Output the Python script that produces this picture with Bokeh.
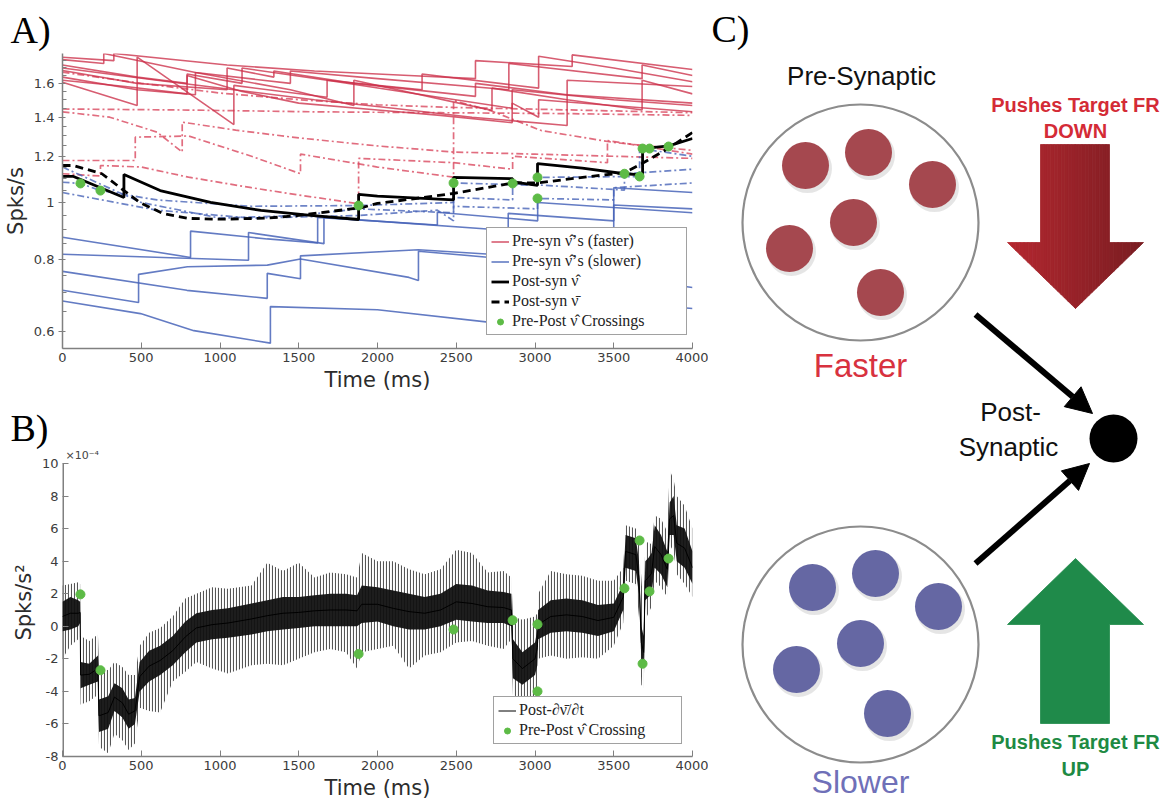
from bokeh.plotting import figure
from bokeh.models import Range1d, FixedTicker, Label, Legend, LegendItem, Arrow, NormalHead, Title
from bokeh.layouts import row, column
from bokeh.embed import file_html
from bokeh.resources import INLINE
from bokeh.core.properties import value

# ---------------- Panel A data (time in ms, rate in Spks/s) ----------------
red_solid_t = [
    [0, 326, 326, 1045, 1600, 2200, 2622, 2622, 3236, 3236, 4000],
    [0, 262, 262, 844, 1447, 1447, 2000, 2834, 2834, 3680, 3680, 4000],
    [0, 474, 791, 791, 1140, 1140, 1680, 2283, 2283, 3023, 3023, 3500, 4000],
    [0, 474, 1045, 1045, 1342, 1342, 1850, 2622, 2622, 3204, 3204, 4000],
    [0, 474, 474, 1088, 1088, 1680, 1680, 2283, 2855, 2855, 3500, 4000],
    [0, 474, 844, 844, 1447, 1850, 1850, 2727, 2727, 3204, 3680, 3680, 4000],
    [0, 400, 791, 791, 1140, 1500, 2000, 2400, 2855, 2855, 3023, 3023, 4000],
    [0, 600, 1088, 1600, 2100, 2600, 3204, 3204, 4000],
]
red_solid_v = [
    [1.774, 1.75, 1.80, 1.72, 1.68, 1.65, 1.63, 1.75, 1.71, 1.79, 1.69],
    [1.757, 1.73, 1.80, 1.67, 1.60, 1.68, 1.63, 1.56, 1.73, 1.63, 1.72, 1.65],
    [1.72, 1.64, 1.60, 1.66, 1.60, 1.70, 1.62, 1.56, 1.66, 1.57, 1.78, 1.70, 1.61],
    [1.683, 1.60, 1.56, 1.70, 1.64, 1.68, 1.60, 1.52, 1.60, 1.53, 1.62, 1.58],
    [1.607, 1.466, 1.775, 1.36, 1.587, 1.515, 1.62, 1.53, 1.45, 1.56, 1.50, 1.466],
    [1.64, 1.56, 1.53, 1.67, 1.56, 1.466, 1.62, 1.438, 1.57, 1.50, 1.44, 1.62, 1.535],
    [1.62, 1.58, 1.535, 1.65, 1.55, 1.48, 1.44, 1.41, 1.37, 1.48, 1.40, 1.50, 1.43],
    [1.70, 1.62, 1.56, 1.50, 1.45, 1.40, 1.355, 1.53, 1.48],
]
red_dash_t = [
    [0, 500, 1000, 1500, 2000, 2483, 3000, 3500, 4000],
    [0, 800, 1600, 2400, 3200, 4000],
    [0, 300, 600, 760, 760, 1100, 1500, 2000, 2483, 3000, 3500, 4000],
    [0, 462, 462, 800, 1200, 1511, 1511, 2000, 2483, 2483, 2717, 3040, 3500, 4000],
    [0, 241, 241, 500, 800, 1200, 1500, 1880, 1880, 2483, 2858, 2858, 3460, 3460, 4000],
]
red_dash_v = [
    [1.672, 1.60, 1.54, 1.50, 1.47, 1.455, 1.445, 1.435, 1.425],
    [1.446, 1.44, 1.43, 1.425, 1.42, 1.41],
    [1.43, 1.40, 1.32, 1.22, 1.373, 1.33, 1.29, 1.25, 1.22, 1.21, 1.20, 1.19],
    [1.18, 1.18, 1.294, 1.30, 1.20, 1.12, 1.21, 1.15, 1.105, 1.495, 1.437, 1.328, 1.267, 1.228],
    [1.12, 1.11, 1.157, 1.15, 1.105, 1.06, 1.03, 0.995, 1.19, 1.17, 1.14, 1.20, 1.17, 1.277, 1.21],
]
blue_solid_t = [
    [0, 813, 813, 1300, 1620, 1620, 2380, 2380, 3017, 3017, 4000],
    [0, 1181, 1181, 1660, 1660, 2830, 2830, 3500, 3500, 4000],
    [0, 790, 1300, 1300, 1511, 1511, 2260, 2717, 3300, 3500, 3500, 4000],
    [0, 483, 483, 793, 1300, 1511, 2200, 2260, 2260, 2717, 3500, 4000],
    [0, 495, 834, 1320, 1320, 2000, 2717, 3050, 3050, 4000],
]
blue_solid_v = [
    [0.872, 0.805, 0.893, 0.866, 0.852, 0.943, 0.915, 0.962, 0.93, 1.0, 0.96],
    [0.815, 0.796, 0.888, 0.850, 0.943, 0.895, 0.958, 0.93, 0.99, 0.975],
    [0.762, 0.707, 0.685, 0.756, 0.74, 0.81, 0.83, 0.815, 0.78, 0.76, 1.06, 1.04],
    [0.707, 0.674, 0.753, 0.776, 0.781, 0.80, 0.744, 0.735, 0.825, 0.805, 0.745, 0.715],
    [0.678, 0.645, 0.603, 0.574, 0.663, 0.655, 0.623, 0.615, 0.69, 0.658],
]
blue_dash_t = [
    [0, 114, 241, 600, 1200, 1880, 2483, 2483, 3016, 3016, 3664, 3664, 4000],
    [0, 500, 1000, 1500, 1880, 2483, 2483, 2858, 2858, 3568, 3568, 4000],
    [0, 600, 1200, 1880, 2380, 2483, 2483, 3016, 3016, 3500, 3500, 4000],
]
blue_dash_v = [
    [1.083, 1.078, 1.048, 1.01, 0.985, 0.988, 1.0, 1.08, 1.07, 1.104, 1.108, 1.237, 1.20],
    [1.15, 1.0, 0.94, 0.95, 0.975, 0.96, 1.02, 1.01, 1.078, 1.05, 1.12, 1.14],
    [1.04, 0.97, 0.94, 0.95, 0.97, 0.93, 0.985, 0.975, 1.016, 1.01, 1.06, 1.08],
]
post_hat_t = [0, 70, 390, 390, 620, 940, 1260, 1575, 1880, 1880, 2000, 2483, 2483, 2858, 2858,
              3016, 3016, 3300, 3568, 3683, 3683, 3850, 4000]
post_hat_v = [1.108, 1.108, 1.02, 1.117, 1.048, 1.0, 0.969, 0.95, 0.935, 1.032, 1.025, 1.01, 1.104,
              1.098, 1.085, 1.07, 1.166, 1.145, 1.12, 1.115, 1.237, 1.25, 1.287]
post_bar_t = [0, 70, 250, 490, 640, 800, 1000, 1300, 1500, 1700, 1900, 2000, 2483, 2858, 3016,
              3250, 3570, 3680, 3850, 4000]
post_bar_v = [1.157, 1.157, 1.12, 1.0, 0.957, 0.939, 0.936, 0.94, 0.95, 0.965, 0.98, 0.996, 1.036,
              1.08, 1.08, 1.10, 1.125, 1.166, 1.24, 1.318]
cross_t = [114, 241, 1880, 2483, 2858, 3016, 3016, 3568, 3664, 3683, 3727, 3848]
cross_vA = [1.078, 1.048, 0.988, 1.08, 1.078, 1.104, 1.016, 1.12, 1.108, 1.237, 1.237, 1.247]
cross_vB = [1.96, -2.7, -1.7, -0.2, 0.37, 0.12, -4.0, 2.33, 5.27, -2.3, 2.14, 4.16]

a_x_ticks = [0, 500, 1000, 1500, 2000, 2500, 3000, 3500, 4000]
a_y_ticks = [0.6, 0.8, 1, 1.2, 1.4, 1.6]
a_y_labels = ["0.6", "0.8", "1", "1.2", "1.4", "1.6"]
a_y_minor = [0.65, 0.7, 0.75, 0.85, 0.9, 0.95, 1.05, 1.1, 1.15, 1.25, 1.3, 1.35,
             1.45, 1.5, 1.55, 1.65, 1.7, 1.75]

# ---------------- Panel B data (units of 1e-4 Spks/s^2) ----------------
b_t = [0, 50, 100, 112, 115, 170, 225, 232, 290, 330, 380, 420, 460, 490, 550, 620, 700, 780,
       850, 950, 1050, 1200, 1300, 1400, 1500, 1600, 1700, 1800, 1870, 1900, 2000, 2100, 2200,
       2300, 2400, 2500, 2600, 2700, 2800, 2850, 2860, 2920, 3000, 3015, 3020, 3100, 3200, 3300,
       3400, 3500, 3560, 3575, 3640, 3660, 3675, 3690, 3700, 3720, 3740, 3760, 3800, 3840, 3855,
       3880, 3900, 3950, 4000]
b_core_hi = [1.5, 1.8, 1.6, 1.5, -2.2, -2.3, -1.8, -4.5, -4.3, -3.5, -3.8, -4.5, -4.4, -2.2, -1.5,
             -1.2, -0.6, 0.3, 0.8, 1.0, 1.1, 1.4, 1.6, 1.8, 1.8, 1.9, 2.0, 2.0, 1.9, 2.5, 2.4, 2.2,
             2.0, 1.8, 2.0, 2.6, 2.5, 2.2, 2.1, 2.0, -0.8, -1.6, -1.0, -0.2, 1.0, 1.6, 1.7, 1.6,
             1.3, 1.4, 2.6, 5.6, 5.4, 4.0, 0.0, -0.6, 4.0, 4.2, 4.5, 6.2, 5.6, 4.6, 7.6, 8.0, 6.2,
             6.0, 4.6]
b_core_lo = [-0.3, -0.2, 0.0, 0.2, -3.8, -3.6, -3.4, -6.5, -6.3, -5.2, -5.6, -6.3, -6.0, -4.0,
             -3.4, -3.0, -2.4, -1.6, -1.0, -0.8, -0.7, -0.5, -0.3, -0.2, -0.1, 0.0, 0.0, 0.0, 0.0,
             0.2, 0.3, 0.0, -0.2, -0.2, 0.0, 0.4, 0.3, 0.2, 0.2, 0.0, -3.2, -3.6, -3.0, -2.4, -0.8,
             -0.4, -0.3, -0.4, -0.6, -0.3, 1.0, 3.6, 3.4, 2.0, -2.0, -2.6, 1.6, 1.8, 2.0, 3.6, 3.2,
             2.4, 5.6, 5.6, 4.0, 3.6, 2.6]
b_spike_hi = [2.5, 2.6, 2.7, 2.6, -0.6, -0.9, -0.5, -2.5, -2.7, -2.2, -2.5, -3.0, -3.0, -1.2, -0.4,
              -0.1, 0.6, 1.7, 2.0, 2.4, 2.3, 2.5, 3.9, 3.4, 3.9, 3.0, 3.3, 3.2, 3.0, 4.5, 4.0, 4.0,
              3.5, 3.2, 3.5, 4.7, 4.5, 3.3, 3.4, 3.0, 0.6, 0.4, 0.6, 0.8, 2.0, 3.4, 3.2, 3.1, 2.8,
              2.8, 3.6, 6.2, 6.0, 5.0, 3.0, 1.0, 5.0, 5.2, 5.0, 6.8, 6.6, 5.8, 9.6, 9.0, 8.0, 7.4,
              6.0]
b_spike_lo = [-2.0, -1.2, -0.8, -0.6, -4.8, -4.6, -4.2, -7.4, -7.8, -6.6, -7.0, -7.6, -7.2, -5.0,
              -5.2, -5.3, -3.4, -2.8, -2.2, -2.6, -2.9, -2.4, -2.3, -2.4, -2.0, -1.6, -1.4, -1.6,
              -2.6, -1.6, -1.4, -1.2, -2.6, -1.8, -1.6, -1.0, -0.9, -1.2, -1.4, -0.8, -4.2, -4.5,
              -4.5, -4.6, -2.0, -1.8, -2.0, -1.9, -2.0, -1.2, 0.2, 2.8, 2.6, 0.6, -3.6, -3.8, 0.4,
              0.8, 1.2, 2.8, 2.4, 1.8, 5.0, 4.6, 3.2, 2.6, 1.8]
b_y_ticks = [-8, -6, -4, -2, 0, 2, 4, 6, 8, 10]
b_y_labels = ["-8", "-6", "-4", "-2", "0", "2", "4", "6", "8", "10"]
b_y_min, b_y_max = -8, 10
b_exponent = "\u00d710\u207b\u2074"

# ---------------- colours ----------------
RED = "#cc3049"
RED_DD = "#d9485f"
BLUE = "#4864b8"
GREEN = "#5dbb46"
AXC = "#808080"


def style(p, ymajor_in, ymajor_out, yminor_in):
    p.outline_line_color = None
    p.xgrid.visible = False
    p.ygrid.visible = False
    for ax in (p.xaxis[0], p.yaxis[0]):
        ax.axis_line_color = AXC
        ax.axis_line_width = 1.5
        ax.major_tick_line_color = AXC
        ax.minor_tick_line_color = AXC
        ax.major_label_text_font = "DejaVu Sans"
        ax.major_label_text_font_size = "13px"
        ax.major_label_text_color = "#3c3c3c"
        ax.axis_label_text_font = "DejaVu Sans"
        ax.axis_label_text_font_size = "21px"
        ax.axis_label_text_font_style = "normal"
        ax.axis_label_text_color = "#2c2c2c"
        ax.major_label_standoff = 4
        ax.axis_label_standoff = 3
    p.xaxis.major_tick_in = 6
    p.xaxis.major_tick_out = 0
    p.xaxis.minor_tick_line_color = None
    p.yaxis.major_tick_in = ymajor_in
    p.yaxis.major_tick_out = ymajor_out
    p.yaxis.minor_tick_in = yminor_in
    p.yaxis.minor_tick_out = 0


def style_legend(lg, lw):
    lg.label_text_font = "Liberation Serif"
    lg.label_text_font_size = "16px"
    lg.label_text_color = "#222222"
    lg.glyph_width = 18
    lg.glyph_height = 15
    lg.label_height = 15
    lg.label_standoff = 3
    lg.spacing = 2
    lg.padding = 4
    lg.margin = 0
    lg.label_width = lw
    lg.border_line_color = "#444444"
    lg.border_line_width = 1
    lg.background_fill_alpha = 1.0


def panel_title(p, txt, standoff, baseline="bottom"):
    p.add_layout(Title(text=txt, align="left", offset=-52, standoff=standoff,
                       text_font="Liberation Serif", text_font_size="38px",
                       text_font_style="normal", text_color="black",
                       text_baseline=baseline), "above")


# ---------------- Panel A ----------------
pA = figure(width=708, height=398, y_axis_type="log", x_range=Range1d(0, 4000),
            y_range=Range1d(0.562, 1.80), output_backend="svg", toolbar_location=None,
            min_border_left=62, min_border_right=16, min_border_top=53, min_border_bottom=50)
style(pA, 3, 4, 4)
pA.xaxis.ticker = FixedTicker(ticks=a_x_ticks)
pA.yaxis.ticker = FixedTicker(ticks=a_y_ticks, minor_ticks=a_y_minor)
pA.yaxis.major_label_overrides = dict(zip(a_y_ticks, a_y_labels))
pA.xaxis.axis_label = "Time (ms)"
pA.yaxis.axis_label = "Spks/s"
panel_title(pA, "A)", 6)

r_red = None
for t, v in zip(red_dash_t, red_dash_v):
    pA.line(t, v, line_color=RED_DD, line_alpha=0.8, line_width=1.7, line_dash="7 3 2 3")
for t, v in zip(red_solid_t, red_solid_v):
    rr = pA.line(t, v, line_color=RED, line_alpha=0.78, line_width=1.6)
    if r_red is None:
        r_red = rr
r_blue = None
for t, v in zip(blue_dash_t, blue_dash_v):
    pA.line(t, v, line_color=BLUE, line_alpha=0.8, line_width=1.7, line_dash="7 3 2 3")
for t, v in zip(blue_solid_t, blue_solid_v):
    rb = pA.line(t, v, line_color=BLUE, line_alpha=0.85, line_width=1.6)
    if r_blue is None:
        r_blue = rb
r_hat = pA.line(post_hat_t, post_hat_v, line_color="black", line_width=2.8)
r_bar = pA.line(post_bar_t, post_bar_v, line_color="black", line_width=2.8, line_dash="8 5")
r_crossA = pA.scatter(cross_t, cross_vA, size=9, fill_color=GREEN, line_color=GREEN)

legA = Legend(items=[
    LegendItem(label="Pre-syn \u03bd\u0302\u2019s (faster)", renderers=[r_red]),
    LegendItem(label="Pre-syn \u03bd\u0302\u2019s (slower)", renderers=[r_blue]),
    LegendItem(label="Post-syn \u03bd\u0302", renderers=[r_hat]),
    LegendItem(label="Post-syn \u03bd\u0304", renderers=[r_bar]),
    LegendItem(label="Pre-Post \u03bd\u0302 Crossings", renderers=[r_crossA]),
], location=(424, 13))
style_legend(legA, 170)
pA.add_layout(legA)

# ---------------- Panel B ----------------
# the frame reaches a little above 10 so that the x10^-4 note can sit inside it
pB = figure(width=708, height=404, x_range=Range1d(0, 4000), y_range=Range1d(b_y_min, 10.92),
            output_backend="svg", toolbar_location=None,
            min_border_left=62, min_border_right=16, min_border_top=50, min_border_bottom=45)
style(pB, 6, 0, 0)
pB.yaxis.axis_line_color = None
pB.xaxis.ticker = FixedTicker(ticks=a_x_ticks)
pB.yaxis.ticker = FixedTicker(ticks=b_y_ticks, minor_ticks=[])
pB.yaxis.major_label_overrides = dict(zip(b_y_ticks, b_y_labels))
pB.xaxis.axis_label = "Time (ms)"
pB.yaxis.axis_label = "Spks/s\u00b2"
panel_title(pB, "B)", 0, baseline="alphabetic")
pB.segment(x0=[0], y0=[b_y_min], x1=[0], y1=[b_y_max], line_color=AXC, line_width=3)
pB.text(x=[0], y=[b_y_max], text=[b_exponent], x_offset=3, y_offset=-1,
        text_font=value("DejaVu Sans"), text_font_size="11px", text_color="#444444",
        text_baseline="bottom", text_align="left")

pB.varea(x=b_t, y1=b_spike_lo, y2=b_spike_hi, fill_color=None, fill_alpha=0,
         hatch_pattern="vertical_line", hatch_color="#2a2a2a", hatch_alpha=0.8,
         hatch_scale=3, hatch_weight=1.1)
pB.varea(x=b_t, y1=b_core_lo, y2=b_core_hi, fill_color="#111111", fill_alpha=0.95)
b_mid = [(a + b) / 2 for a, b in zip(b_core_lo, b_core_hi)]
r_deriv = pB.line(b_t, b_mid, line_color="black", line_width=1)
r_crossB = pB.scatter(cross_t, cross_vB, size=9, fill_color=GREEN, line_color=GREEN)

legB = Legend(items=[
    LegendItem(label="Post-\u2202\u03bd\u0304/\u2202t", renderers=[r_deriv]),
    LegendItem(label="Pre-Post \u03bd\u0302 Crossing", renderers=[r_crossB]),
], location=(431, 12))
style_legend(legB, 158)
pB.add_layout(legB)

# ---------------- Panel C (schematic, canvas coordinates) ----------------
pC = figure(width=460, height=802, x_range=Range1d(708, 1168), y_range=Range1d(802, 0),
            x_axis_location=None, y_axis_location=None, min_border=0,
            output_backend="svg", toolbar_location=None)
pC.outline_line_color = None
pC.grid.visible = False

pool_cx = [860, 860]
pool_cy = [222, 644]
pC.circle(pool_cx, pool_cy, radius=118, fill_color=None, line_color="#8c8c8c", line_width=2.2)

fast_x = [805, 868, 932, 853, 789, 880]
fast_y = [165, 152, 184, 222, 248, 292]
slow_x = [812, 875, 938, 860, 796, 887]
slow_y = [587, 573, 606, 643, 669, 713]
pC.circle([x + 2 for x in fast_x], [y + 3 for y in fast_y], radius=24.5,
          fill_color="black", fill_alpha=0.10, line_color=None)
pC.circle([x + 2 for x in slow_x], [y + 3 for y in slow_y], radius=24.5,
          fill_color="black", fill_alpha=0.10, line_color=None)
pC.circle(fast_x, fast_y, radius=23.5, fill_color="#a5484f", line_color=None)
pC.circle(slow_x, slow_y, radius=23.5, fill_color="#6567a3", line_color=None)

pC.circle([1113], [438], radius=24, fill_color="black", line_color=None)
pC.add_layout(Arrow(end=NormalHead(size=26, fill_color="black", line_color="black"),
                    x_start=975, y_start=314, x_end=1092, y_end=413,
                    line_width=6, line_color="black"))
pC.add_layout(Arrow(end=NormalHead(size=26, fill_color="black", line_color="black"),
                    x_start=975, y_start=563, x_end=1089, y_end=463,
                    line_width=6, line_color="black"))

hl, hr, sl, sr, top, base, tipy, tipx = 1007, 1143, 1040, 1109, 144, 242, 308, 1075


def y_lower(x):
    if x <= tipx:
        f = (x - hl) / (tipx - hl)
    else:
        f = (hr - x) / (hr - tipx)
    return base + (tipy - base) * f


edges = [hl + (sl - hl) * i / 8 for i in range(9)]
edges += [sl + (sr - sl) * i / 20 for i in range(1, 21)]
edges += [sr + (hr - sr) * i / 8 for i in range(1, 9)]
edges = sorted(set(edges + [tipx]))
c0 = (181, 40, 48)
c1 = (122, 29, 34)
xs_list, ys_list, cols = [], [], []
for a, b in zip(edges[:-1], edges[1:]):
    inside = a >= sl - 1e-6 and b <= sr + 1e-6
    yt = top if inside else base
    xs_list.append([a, b, b, a])
    ys_list.append([yt, yt, y_lower(b), y_lower(a)])
    f = ((a + b) / 2 - hl) / (hr - hl)
    c = tuple(int(c0[k] + (c1[k] - c0[k]) * f) for k in range(3))
    cols.append("#%02x%02x%02x" % c)
pC.patches(xs_list, ys_list, fill_color=cols, line_color=cols, line_width=0.8)

g_top, g_base, g_bot = 558, 624, 723
pC.patch([sl, sl, hl, tipx, hr, sr, sr], [g_bot, g_base, g_base, g_top, g_base, g_base, g_bot],
         fill_color="#1f8a4a", line_color="#1f8a4a", line_width=0.8)


def ctext(x, y, s, size, color, style="normal", font="Liberation Sans", align="center"):
    # y is the wanted baseline; the renderer draws the text ~0.35 em lower
    px = float(size.replace("px", ""))
    pC.add_layout(Label(x=x, y=y - 0.35 * px, text=s, text_font=font, text_font_size=size,
                        text_color=color, text_font_style=style, text_align=align,
                        text_baseline="alphabetic"))


ctext(711, 42, "C)", "38px", "black", font="Liberation Serif", align="left")
ctext(861, 85, "Pre-Synaptic", "26px", "#111111")
ctext(860, 377, "Faster", "33px", "#d8323f")
ctext(860, 793, "Slower", "32px", "#6f70b8")
ctext(1010, 421, "Post-", "26px", "#111111")
ctext(1008, 456, "Synaptic", "26px", "#111111")
ctext(1075, 111, "Pushes Target FR", "20px", "#d42b36", style="bold")
ctext(1075, 137, "DOWN", "20px", "#d42b36", style="bold")
ctext(1075, 748, "Pushes Target FR", "20px", "#1e8a43", style="bold")
ctext(1075, 775, "UP", "20px", "#1e8a43", style="bold")

layout = row(column(pA, pB), pC)
open("out.html", "w").write(file_html(layout, INLINE))
